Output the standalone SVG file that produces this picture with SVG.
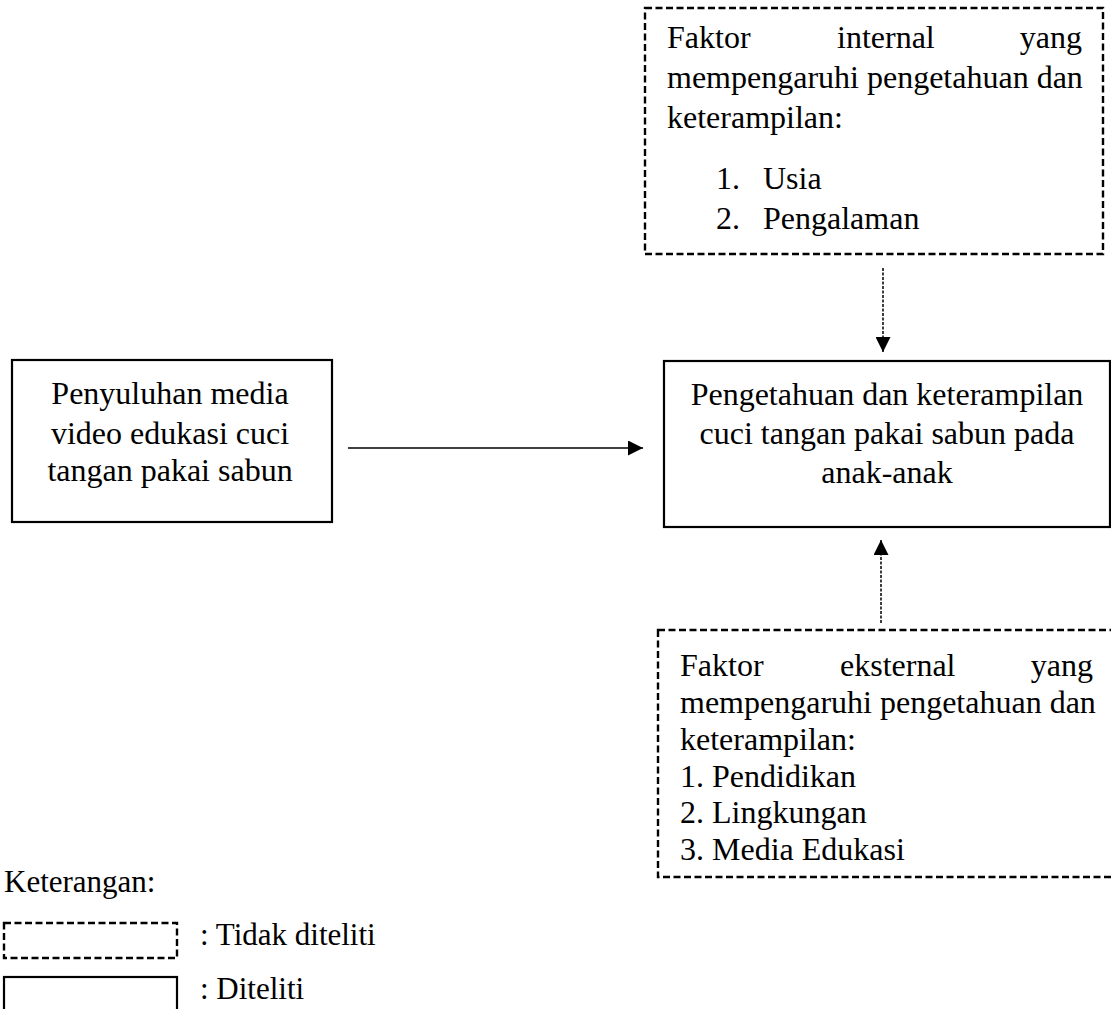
<svg xmlns="http://www.w3.org/2000/svg" width="1111" height="1009" viewBox="0 0 1111 1009">
<style>
text{font-family:"Liberation Serif","Times New Roman",serif;font-size:32px;fill:#000}
.solid{fill:#fff;stroke:#000;stroke-width:2.2}
.dash{fill:#fff;stroke:#000;stroke-width:2.4;stroke-dasharray:7 3.5}
.conn{stroke:#000;stroke-width:1.5;fill:none}
.dconn{stroke:#000;stroke-width:1.5;fill:none;stroke-dasharray:3 1.5}
.leg{font-size:31px}
</style>
<defs>
<marker id="ah" markerWidth="15" markerHeight="15" refX="15" refY="7.5" orient="auto" markerUnits="userSpaceOnUse">
<path d="M0,0 L15,7.5 L0,15 z" fill="#000"/>
</marker>
</defs>
<rect width="1111" height="1009" fill="#fff"/>

<g id="connectors">
<line class="conn" x1="348" y1="448" x2="643" y2="448" marker-end="url(#ah)"/>
<line class="dconn" x1="883" y1="268" x2="883" y2="352" marker-end="url(#ah)"/>
<line class="dconn" x1="881" y1="623" x2="881" y2="540" marker-end="url(#ah)"/>
</g>

<g id="internal">
<rect class="dash" x="645" y="8" width="458" height="246"/>
<text x="667" y="48">Faktor</text>
<text x="837" y="48">internal</text>
<text x="1082" y="48" text-anchor="end">yang</text>
<text x="667" y="88">mempengaruhi pengetahuan dan</text>
<text x="667" y="128">keterampilan:</text>
<text x="716" y="189">1.</text>
<text x="763" y="189">Usia</text>
<text x="716" y="229">2.</text>
<text x="763" y="229">Pengalaman</text>
</g>

<g id="penyuluhan">
<rect class="solid" x="12" y="360" width="320" height="162"/>
<text x="170" y="404" text-anchor="middle">Penyuluhan media</text>
<text x="170" y="444" text-anchor="middle">video edukasi cuci</text>
<text x="170" y="481" text-anchor="middle">tangan pakai sabun</text>
</g>

<g id="pengetahuan">
<rect class="solid" x="664" y="361" width="446" height="166"/>
<text x="887" y="405" text-anchor="middle">Pengetahuan dan keterampilan</text>
<text x="887" y="444" text-anchor="middle">cuci tangan pakai sabun pada</text>
<text x="887" y="483" text-anchor="middle">anak-anak</text>
</g>

<g id="eksternal">
<rect class="dash" x="658" y="630" width="460" height="247"/>
<text x="680" y="676">Faktor</text>
<text x="840" y="676">eksternal</text>
<text x="1093" y="676" text-anchor="end">yang</text>
<text x="680" y="713">mempengaruhi pengetahuan dan</text>
<text x="680" y="750">keterampilan:</text>
<text x="680" y="787">1. Pendidikan</text>
<text x="680" y="823">2. Lingkungan</text>
<text x="680" y="860">3. Media Edukasi</text>
</g>

<g id="legend">
<text class="leg" x="4" y="892">Keterangan:</text>
<rect class="dash" x="4" y="923" width="173" height="35"/>
<text class="leg" x="200" y="945">: Tidak diteliti</text>
<rect class="solid" x="4" y="977" width="173" height="40"/>
<text class="leg" x="200" y="999">: Diteliti</text>
</g>
</svg>
